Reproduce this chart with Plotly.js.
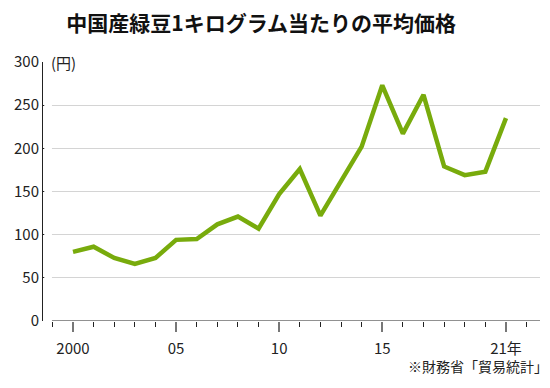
<!DOCTYPE html>
<html>
<head>
<meta charset="utf-8">
<script src="https://cdn.plot.ly/plotly-3.0.1.min.js"></script>
<style>html,body{margin:0;padding:0;background:#fff;}#chart{width:550px;height:388px;}</style>
</head>
<body>
<div id="chart"></div>
<script>
const years = [2000,2001,2002,2003,2004,2005,2006,2007,2008,2009,2010,2011,2012,2013,2014,2015,2016,2017,2018,2019,2020,2021];
const prices = [80,86,73,66,73,94,95,112,121,107,147,176,122,162,202,273,217,262,179,169,173,235];
const xTickVals = [2000,2005,2010,2015,2021];
const xTickText = ["2000","05","10","15","21年"];
const yTickVals = [0,50,100,150,200,250,300];

const FONT = '"Noto Sans CJK JP", "Noto Sans", sans-serif';

const trace = {
  x: years, y: prices, type: 'scatter', mode: 'lines',
  line: {color: '#78ab0c', width: 4.5},
  hoverinfo: 'skip'
};

const layout = {
  width: 550, height: 388,
  margin: {l: 43, r: 10, t: 62, b: 67},
  paper_bgcolor: '#fff', plot_bgcolor: '#fff',
  showlegend: false,
  font: {family: FONT, color: '#222'},
  title: {
    text: '<b>中国産緑豆1キログラム当たりの平均価格</b>',
    font: {family: FONT, size: 21, color: '#111'},
    x: 0.475, xanchor: 'center', y: 0.94, yanchor: 'middle'
  },
  xaxis: {
    range: [1998.545, 2022.65],
    tickmode: 'array', tickvals: xTickVals, ticktext: xTickText,
    ticks: 'outside', ticklen: 10, tickwidth: 2, tickcolor: '#777',
    ticklabelstandoff: 4,
    minor: {tickmode: 'linear', tick0: 2000, dtick: 1, ticks: 'outside', ticklen: 5, tickwidth: 1, tickcolor: '#222', showgrid: false},
    showline: false, showgrid: false, zeroline: false,
    tickfont: {family: FONT, size: 15, color: '#222'},
    fixedrange: true
  },
  yaxis: {
    range: [0, 300],
    tickmode: 'array', tickvals: yTickVals,
    ticks: 'inside', ticklen: 6, tickwidth: 1, tickcolor: '#222',
    showline: true, linecolor: '#222', linewidth: 1,
    showgrid: true, gridcolor: '#d4d4d4', gridwidth: 1,
    zeroline: false,
    tickfont: {family: FONT, size: 15, color: '#222'},
    fixedrange: true
  },
  shapes: [
    {type: 'line', xref: 'x domain', yref: 'y', x0: 0.018, x1: 1, y0: 0, y1: 0, line: {color: '#222', width: 1}},
    {type: 'rect', xref: 'x domain', yref: 'paper', x0: 0.0025, x1: 0.018, y0: 0.005, y1: 1.005, fillcolor: '#fff', line: {width: 0}, layer: 'above'}
  ],
  annotations: [
    {text: '(円)', xref: 'paper', yref: 'paper', x: 0.012, y: 1.0, xanchor: 'left', yanchor: 'middle', showarrow: false, font: {family: FONT, size: 15, color: '#222'}, bgcolor: '#fff'},
    {text: '※財務省「貿易統計」', xref: 'paper', yref: 'paper', x: 1.02, y: -0.175, xanchor: 'right', yanchor: 'middle', showarrow: false, font: {family: FONT, size: 14, color: '#222'}}
  ]
};

Plotly.newPlot('chart', [trace], layout, {displayModeBar: false, staticPlot: true});
</script>
</body>
</html>
